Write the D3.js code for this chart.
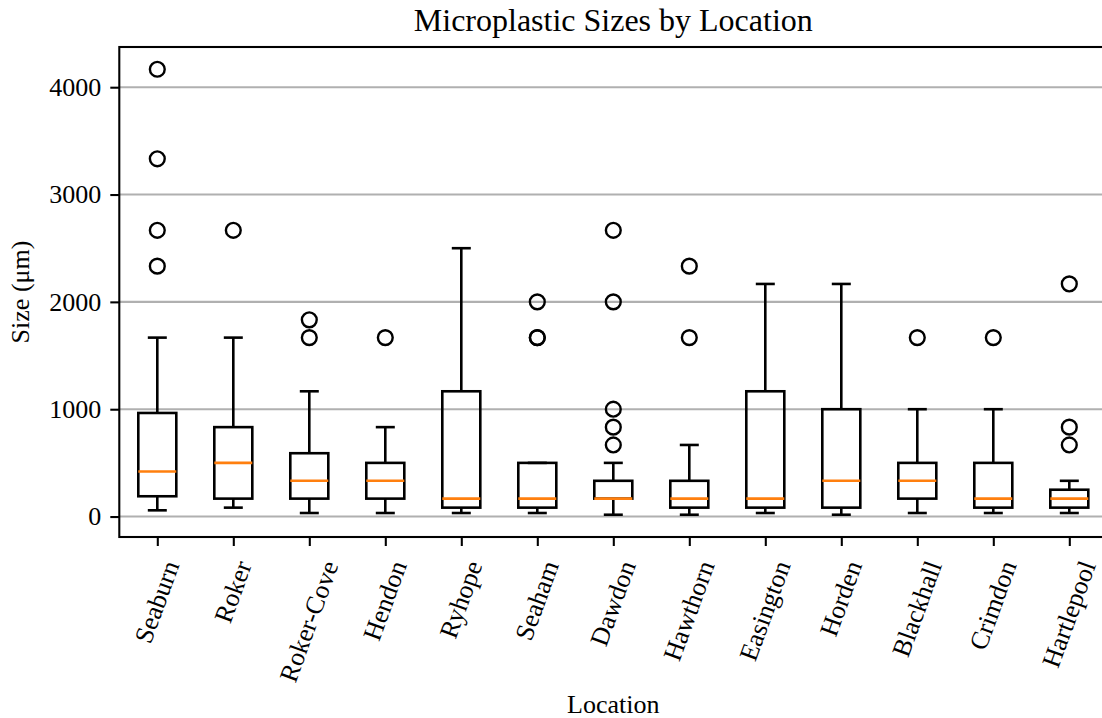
<!DOCTYPE html>
<html>
<head>
<meta charset="utf-8">
<script src="https://d3js.org/d3.v7.min.js"></script>
<style>
  html, body { margin: 0; padding: 0; background: #fff; }
  svg { display: block; }
  text { font-family: "Liberation Serif", "Times New Roman", serif; fill: #000; }
</style>
</head>
<body>
<svg id="chart" width="1102" height="718"></svg>
<script>
// ---- Data ----
const locations = ["Seaburn", "Roker", "Roker-Cove", "Hendon", "Ryhope", "Seaham", "Dawdon",
                   "Hawthorn", "Easington", "Horden", "Blackhall", "Crimdon", "Hartlepool"];
const whiskerLow  = [58, 83, 33, 33, 33, 33, 17, 17, 33, 17, 33, 33, 33];
const q1          = [189, 167, 167, 167, 83, 83, 167, 83, 83, 83, 167, 83, 83];
const median      = [420, 500, 333, 333, 167, 167, 167, 167, 167, 333, 333, 167, 167];
const q3          = [965, 833, 590, 500, 1167, 500, 333, 333, 1167, 1000, 500, 500, 250];
const whiskerHigh = [1667, 1667, 1167, 833, 2500, 500, 500, 667, 2167, 2167, 1000, 1000, 333];
const outliers = [
  [2333, 2667, 3333, 4167],
  [2667],
  [1667, 1833],
  [1667],
  [],
  [1667, 1667, 2000],
  [667, 833, 1000, 2000, 2667],
  [1667, 2333],
  [],
  [],
  [1667],
  [1667],
  [667, 833, 2167]
];
const yTicks = [0, 1000, 2000, 3000, 4000];
const titleText = "Microplastic Sizes by Location";
const xLabelText = "Location";
const yLabelText = "Size (μm)";

(function () {
  const svg = d3.select("#chart");
  const axLeft = 119.3, axRight = 1107.3, axTop = 47, axBottom = 537;
  const pt = 2.6; // pixels per point
  const baseFont = 26;
  const fontFam = '"Liberation Serif", "Times New Roman", serif';

  // y domain with matplotlib-like 5% margins
  const allVals = [].concat(whiskerLow, whiskerHigh, ...outliers);
  const dmin = d3.min(allVals), dmax = d3.max(allVals);
  const pad = (dmax - dmin) * 0.05;
  const y = d3.scaleLinear().domain([dmin - pad, dmax + pad]).range([axBottom, axTop]);
  const x = d3.scalePoint().domain(locations).range([axLeft, axRight]).padding(0.5);
  const step = x.step();
  const boxW = step * 0.5, capW = step * 0.25;

  // grid lines
  svg.append("g").selectAll("line").data(yTicks).join("line")
    .attr("x1", axLeft).attr("x2", axRight)
    .attr("y1", d => y(d)).attr("y2", d => y(d))
    .attr("stroke", "#b0b0b0").attr("stroke-width", 0.8 * pt);

  // boxes
  const g = svg.append("g");
  locations.forEach((loc, i) => {
    const cx = x(loc);
    const lw = 1 * pt;
    g.append("line").attr("x1", cx).attr("x2", cx).attr("y1", y(q1[i])).attr("y2", y(whiskerLow[i]))
      .attr("stroke", "#000").attr("stroke-width", lw);
    g.append("line").attr("x1", cx).attr("x2", cx).attr("y1", y(q3[i])).attr("y2", y(whiskerHigh[i]))
      .attr("stroke", "#000").attr("stroke-width", lw);
    [whiskerLow[i], whiskerHigh[i]].forEach(v => {
      g.append("line").attr("x1", cx - capW / 2).attr("x2", cx + capW / 2)
        .attr("y1", y(v)).attr("y2", y(v))
        .attr("stroke", "#000").attr("stroke-width", lw);
    });
    g.append("rect").attr("x", cx - boxW / 2).attr("width", boxW)
      .attr("y", y(q3[i])).attr("height", y(q1[i]) - y(q3[i]))
      .attr("fill", "none").attr("stroke", "#000").attr("stroke-width", lw);
    g.append("line").attr("x1", cx - boxW / 2).attr("x2", cx + boxW / 2)
      .attr("y1", y(median[i])).attr("y2", y(median[i]))
      .attr("stroke", "#ff7f0e").attr("stroke-width", lw);
    g.selectAll(null).data(outliers[i]).join("circle")
      .attr("cx", cx).attr("cy", d => y(d)).attr("r", 7.4)
      .attr("fill", "none").attr("stroke", "#000").attr("stroke-width", 2.4);
  });

  // spines
  svg.append("rect").attr("x", axLeft).attr("y", axTop).attr("width", axRight - axLeft).attr("height", axBottom - axTop)
    .attr("fill", "none").attr("stroke", "#000").attr("stroke-width", 0.8 * pt);

  // y axis
  const yAxis = d3.axisLeft(y).tickValues(yTicks).tickSize(9).tickPadding(9).tickSizeOuter(0)
    .tickFormat(d3.format("d"));
  const ya = svg.append("g").attr("transform", `translate(${axLeft},0)`).call(yAxis);
  ya.select(".domain").remove();
  ya.selectAll(".tick line").attr("stroke", "#000").attr("stroke-width", 0.8 * pt);
  ya.selectAll(".tick text").attr("font-size", baseFont).attr("font-family", fontFam).attr("fill", "#000");

  // x axis ticks
  const xAxis = d3.axisBottom(x).tickSize(9).tickSizeOuter(0).tickFormat("");
  const xa = svg.append("g").attr("transform", `translate(0,${axBottom})`).call(xAxis);
  xa.select(".domain").remove();
  xa.selectAll(".tick line").attr("stroke", "#000").attr("stroke-width", 0.8 * pt);

  // rotated x tick labels
  const sin70 = Math.sin(70 * Math.PI / 180);
  const xl = svg.append("g");
  locations.forEach(loc => {
    const t = xl.append("text").attr("font-size", baseFont).attr("text-anchor", "middle")
      .attr("dy", "0.32em").text(loc);
    const w = t.node().getComputedTextLength();
    const cy = axBottom + 25 + w * sin70 / 2;
    t.attr("transform", `translate(${x(loc)},${cy}) rotate(-70)`);
  });

  // title and axis labels
  svg.append("text").attr("x", (axLeft + axRight) / 2).attr("y", 31).attr("text-anchor", "middle")
    .attr("font-size", 32).text(titleText);
  svg.append("text").attr("x", (axLeft + axRight) / 2).attr("y", 713).attr("text-anchor", "middle")
    .attr("font-size", baseFont).text(xLabelText);
  svg.append("text").attr("transform", `translate(29,${(axTop + axBottom) / 2}) rotate(-90)`)
    .attr("text-anchor", "middle").attr("font-size", baseFont).text(yLabelText);
})();
</script>
</body>
</html>
